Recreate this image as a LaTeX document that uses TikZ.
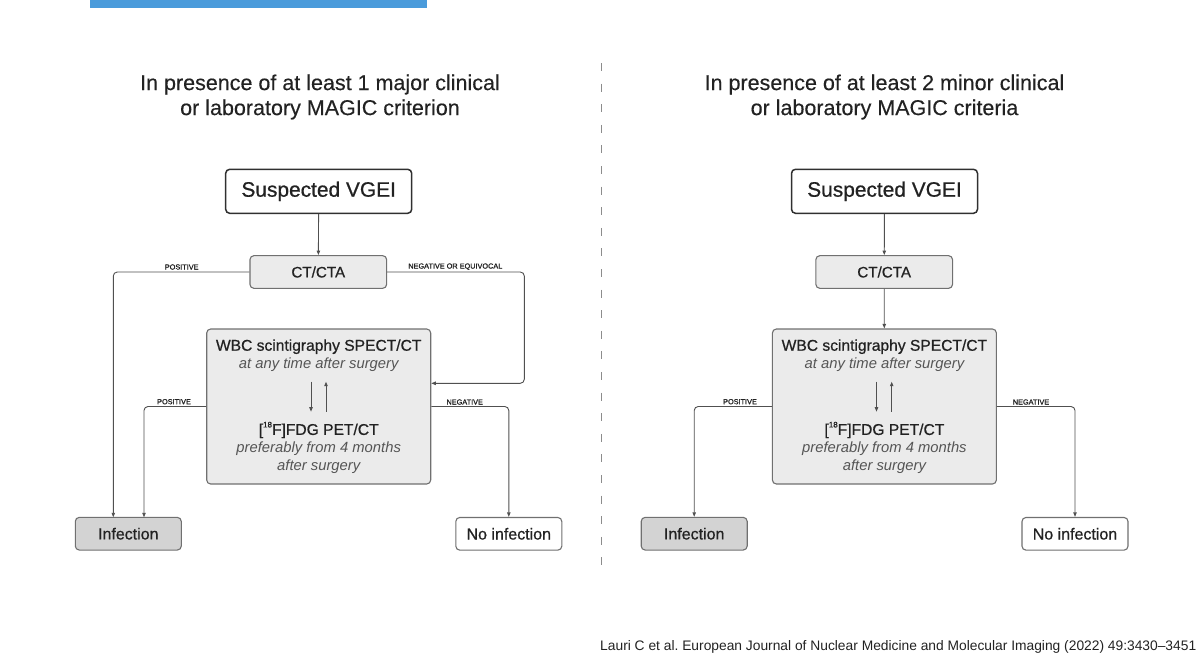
\documentclass[tikz,border=0pt]{standalone}
\usepackage{fontspec}
\setmainfont{Liberation Sans}
\newfontfamily\medfont[FakeBold=0.7]{Liberation Sans}
\newfontfamily\labfont[FakeBold=1.2]{Liberation Sans}
\newfontfamily\ttlfont[FakeBold=0.3]{Liberation Sans}
\usetikzlibrary{arrows.meta}
\definecolor{linec}{HTML}{505050}
\definecolor{boxline}{HTML}{707070}
\definecolor{mainline}{HTML}{303030}
\definecolor{boxfill}{HTML}{EBEBEB}
\definecolor{inffill}{HTML}{D3D3D3}
\definecolor{txt}{HTML}{222222}
\definecolor{ittxt}{HTML}{555555}
\definecolor{barblue}{HTML}{4A9BDB}
\definecolor{dashc}{HTML}{8C8C8C}
\newcommand{\isotope}[1]{\raisebox{0.48em}{\fontsize{8}{8}\selectfont #1}}
\begin{document}
\begin{tikzpicture}[x=1pt,y=-1pt,
  mainbox/.style={draw=mainline, line width=1.5pt, rounded corners=4pt, fill=white, inner sep=0pt,
    minimum width=186pt, minimum height=44pt, text=txt, font=\medfont\fontsize{20.9}{24}\selectfont},
  greybox/.style={draw=boxline, line width=1.1pt, rounded corners=4pt, fill=boxfill, inner sep=0pt, text=txt},
  endbox/.style={draw=boxline, line width=1.1pt, rounded corners=4pt, inner sep=0pt,
    minimum width=106pt, minimum height=32.7pt, text=txt, font=\medfont\fontsize{16}{19}\selectfont},
  btxt/.style={inner sep=0pt, text=txt, font=\medfont\fontsize{15.6}{18}\selectfont},
  itxt/.style={inner sep=0pt, text=ittxt, font=\fontsize{14.8}{18}\selectfont\itshape},
  lab/.style={inner sep=0pt, text=txt, font=\labfont\fontsize{7.3}{9}\selectfont},
  conn/.style={draw=linec, line width=0.9pt, rounded corners=4pt},
  arr/.style={conn, -{Triangle[length=4.5pt,width=3.4pt]}},
  ttl/.style={inner sep=0pt, align=center, text=txt, font=\ttlfont\fontsize{21.5}{25}\selectfont},
]
\useasboundingbox (0,0) rectangle (1200,662);
\fill[barblue] (90,0) rectangle (427,7.5);

% titles
\node[ttl] (t1) at (320,97) {In presence of at least 1 major clinical\\or laboratory MAGIC criterion};
\node[ttl] (t2) at (884.5,97) {In presence of at least 2 minor clinical\\or laboratory MAGIC criteria};

% separator
\coordinate (sepa) at (601.5,63);
\coordinate (sepb) at (601.5,575);
\draw[dashc, line width=1pt, dash pattern=on 8pt off 12.6pt] (sepa) -- (sepb);

% ---------------- left panel ----------------
\node[mainbox] (sus1) at (318.7,191.3) {Suspected VGEI};
\node[greybox, minimum width=136.7pt, minimum height=32.7pt, font=\medfont\fontsize{15.2}{18}\selectfont] (ct1) at (318.3,272) {CT/CTA};
\node[greybox, minimum width=224pt, minimum height=155pt] (wbc1) at (318.7,406.5) {};
\node[btxt] (w1a) at (318.7,346.7) {WBC scintigraphy SPECT/CT};
\node[itxt] (w1b) at (318.7,365) {at any time after surgery};
\node[btxt] (w1c) at (318.7,430) {[\isotope{18}F]FDG PET/CT};
\node[itxt] (w1d) at (318.7,448.3) {preferably from 4 months};
\node[itxt] (w1e) at (318.7,466.7) {after surgery};
\node[endbox, fill=inffill] (inf1) at (128.3,533.7) {Infection};
\node[endbox, fill=white] (no1) at (508.8,533.8) {No infection};

\draw[arr] (sus1) -- (ct1);
\coordinate (pa1) at (113.3,517.3);
\draw[arr] (ct1.west) -| (pa1);
\coordinate (ne1) at (524.3,383.3);
\draw[arr] (ct1.east) -| (ne1) -- (ne1 -| wbc1.east);
\coordinate (pb1) at (144,517.3);
\draw[arr] (wbc1.west) -| (pb1);
\draw[arr] (wbc1.east) -| (no1.north);
\coordinate (d1a) at (311,381.7);
\coordinate (d1b) at (311,411.7);
\coordinate (u1a) at (326,411.7);
\coordinate (u1b) at (326,381.7);
\draw[arr] (d1a) -- (d1b);
\draw[arr] (u1a) -- (u1b);

\node[lab] (l1p) at (181.7,267) {POSITIVE};
\node[lab] (l1n) at (455.3,266.7) {NEGATIVE OR EQUIVOCAL};
\node[lab] (l1p2) at (174,401.7) {POSITIVE};
\node[lab] (l1n2) at (464.7,402) {NEGATIVE};

% ---------------- right panel ----------------
\node[mainbox] (sus2) at (884.5,191.3) {Suspected VGEI};
\node[greybox, minimum width=136.7pt, minimum height=32.7pt, font=\medfont\fontsize{15.2}{18}\selectfont] (ct2) at (884.2,272) {CT/CTA};
\node[greybox, minimum width=224pt, minimum height=155pt] (wbc2) at (884.4,406.5) {};
\node[btxt] (w2a) at (884.4,346.7) {WBC scintigraphy SPECT/CT};
\node[itxt] (w2b) at (884.4,365) {at any time after surgery};
\node[btxt] (w2c) at (884.4,430) {[\isotope{18}F]FDG PET/CT};
\node[itxt] (w2d) at (884.4,448.3) {preferably from 4 months};
\node[itxt] (w2e) at (884.4,466.7) {after surgery};
\node[endbox, fill=inffill] (inf2) at (694.2,533.7) {Infection};
\node[endbox, fill=white] (no2) at (1075,533.8) {No infection};

\draw[arr] (sus2) -- (ct2);
\draw[arr] (ct2) -- (wbc2);
\draw[arr] (wbc2.west) -| (inf2.north);
\draw[arr] (wbc2.east) -| (no2.north);
\coordinate (d2a) at (876.5,381.7);
\coordinate (d2b) at (876.5,411.7);
\coordinate (u2a) at (891.7,411.7);
\coordinate (u2b) at (891.7,381.7);
\draw[arr] (d2a) -- (d2b);
\draw[arr] (u2a) -- (u2b);

\node[lab] (l2p) at (740,401.7) {POSITIVE};
\node[lab] (l2n) at (1031,402) {NEGATIVE};

% citation
\node[inner sep=0pt, anchor=east, text=txt, font=\fontsize{13.8}{16}\selectfont] (cite) at (1196.5,647)
  {\frenchspacing Lauri C et al. European Journal of Nuclear Medicine and Molecular Imaging (2022) 49:3430–3451};
\end{tikzpicture}
\end{document}
